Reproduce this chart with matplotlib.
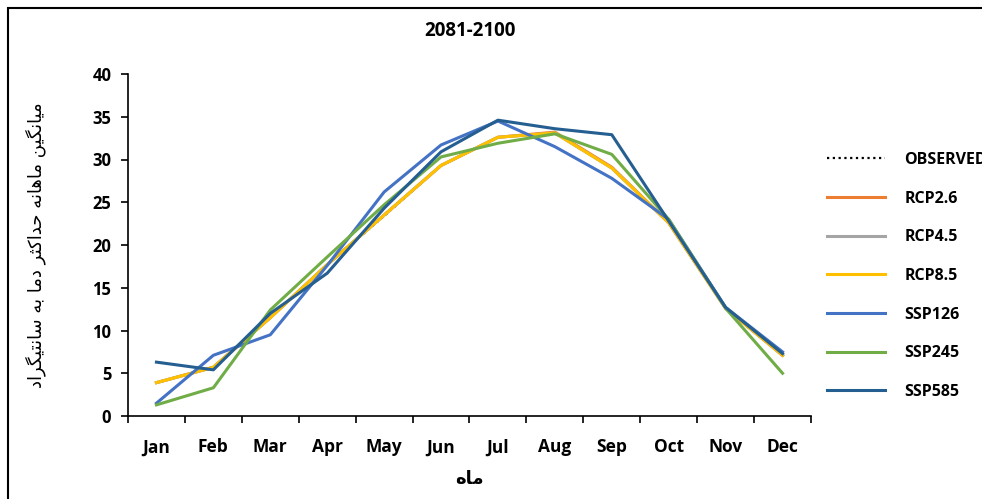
import matplotlib
matplotlib.use("Agg")
import matplotlib.pyplot as plt
from matplotlib.patches import Rectangle

months = ["Jan", "Feb", "Mar", "Apr", "May", "Jun", "Jul", "Aug", "Sep", "Oct", "Nov", "Dec"]
observed = [3.9, 5.7, 11.5, 17.7, 23.4, 29.3, 32.6, 33.1, 29.0, 22.6, 12.6, 7.1]
rcp26 = [3.9, 5.7, 11.5, 17.7, 23.5, 29.3, 32.6, 33.2, 29.1, 22.6, 12.6, 7.1]
rcp45 = [3.9, 5.7, 11.5, 17.7, 23.5, 29.3, 32.6, 33.1, 29.0, 22.6, 12.6, 7.1]
rcp85 = [3.9, 5.7, 11.5, 17.7, 23.5, 29.3, 32.6, 33.1, 29.0, 22.6, 12.6, 7.1]
ssp126 = [1.5, 7.1, 9.5, 17.6, 26.2, 31.7, 34.5, 31.5, 27.8, 23.0, 12.7, 7.5]
ssp245 = [1.3, 3.3, 12.4, 18.6, 24.7, 30.3, 31.9, 33.0, 30.6, 23.0, 12.6, 5.0]
ssp585 = [6.3, 5.4, 12.0, 16.7, 24.3, 30.9, 34.6, 33.6, 32.9, 22.8, 12.7, 7.3]
series_names = ["OBSERVED", "RCP2.6", "RCP4.5", "RCP8.5", "SSP126", "SSP245", "SSP585"]
yticks = [0, 5, 10, 15, 20, 25, 30, 35, 40]
title = "2081-2100"
xlabel_logical = "ماه"
ylabel_logical = "میانگین ماهانه حداکثر دما به سانتیگراد"

# --- simple Persian shaping (presentation forms) ---
FORMS = {
    'ا': ('\uFE8D', '\uFE8E', None, None),
    'د': ('\uFEA9', '\uFEAA', None, None),
    'ر': ('\uFEAD', '\uFEAE', None, None),
    'ب': ('\uFE8F', '\uFE90', '\uFE91', '\uFE92'),
    'ت': ('\uFE95', '\uFE96', '\uFE97', '\uFE98'),
    'ث': ('\uFE99', '\uFE9A', '\uFE9B', '\uFE9C'),
    'ح': ('\uFEA1', '\uFEA2', '\uFEA3', '\uFEA4'),
    'س': ('\uFEB1', '\uFEB2', '\uFEB3', '\uFEB4'),
    'م': ('\uFEE1', '\uFEE2', '\uFEE3', '\uFEE4'),
    'ن': ('\uFEE5', '\uFEE6', '\uFEE7', '\uFEE8'),
    'ه': ('\uFEE9', '\uFEEA', '\uFEEB', '\uFEEC'),
    'ی': ('\uFBFC', '\uFBFD', '\uFBFE', '\uFBFF'),
    'ک': ('\uFB8E', '\uFB8F', '\uFB90', '\uFB91'),
    'گ': ('\uFB92', '\uFB93', '\uFB94', '\uFB95'),
}

def shape(text):
    out = []
    n = len(text)
    for i, c in enumerate(text):
        if c not in FORMS:
            out.append(c)
            continue
        prev = text[i - 1] if i > 0 else None
        nxt = text[i + 1] if i < n - 1 else None
        join_prev = prev in FORMS and FORMS[prev][2] is not None
        join_next = nxt in FORMS and FORMS[c][2] is not None
        iso, fin, ini, med = FORMS[c]
        if join_prev and join_next:
            out.append(med)
        elif join_prev:
            out.append(fin)
        elif join_next:
            out.append(ini)
        else:
            out.append(iso)
    return ''.join(reversed(out))

plt.rcParams['font.family'] = ['Open Sans', 'DejaVu Sans']
plt.rcParams['font.weight'] = 'bold'

fig = plt.figure(figsize=(9.82, 4.99), dpi=100)
ax = fig.add_axes([128 / 982, 1 - 416 / 499, (811 - 128) / 982, (416 - 74) / 499])

x = list(range(len(months)))
colors = ["#000000", "#ED7D31", "#A5A5A5", "#FFC000", "#4472C4", "#70AD47", "#255E91"]
data = [observed, rcp26, rcp45, rcp85, ssp126, ssp245, ssp585]
for name, vals, col in zip(series_names, data, colors):
    if name == "OBSERVED":
        ax.plot(x, vals, color=col, lw=1.6, ls=(0, (1, 1.6)), label=name, zorder=2)
    else:
        ax.plot(x, vals, color=col, lw=2.2, label=name, zorder=3)

ax.set_xlim(-0.5, 11.5)
ax.set_ylim(0, 40)
ax.set_yticks(yticks)
ax.set_yticklabels([str(v) for v in yticks], fontsize=12, fontweight='bold')
ax.set_xticks(x)
ax.set_xticklabels(months, fontsize=12.5, fontweight='bold')
ax.set_xticks([i - 0.5 for i in range(13)], minor=True)
ax.tick_params(axis='x', which='major', length=0, pad=16)
ax.tick_params(axis='x', which='minor', length=5, width=1.2, direction='out')
ax.tick_params(axis='y', length=5, width=1.2, direction='out', pad=7)
for s in ['top', 'right']:
    ax.spines[s].set_visible(False)
for s in ['left', 'bottom']:
    ax.spines[s].set_linewidth(1.2)

ax.set_title(title, fontsize=13.5, fontweight='bold', pad=27)
ax.set_xlabel(shape(xlabel_logical), fontsize=13, fontweight='bold',
              family=['DejaVu Sans'], labelpad=10)
ax.set_ylabel(shape(ylabel_logical), fontsize=13, fontweight='normal',
              family=['DejaVu Sans'], labelpad=33)

leg = ax.legend(loc='upper left', bbox_to_anchor=(827 / 982, 1 - 152 / 499),
                bbox_transform=fig.transFigure, frameon=False, fontsize=11.5,
                handlelength=3.6, handletextpad=1.25, labelspacing=1.42,
                borderaxespad=0, borderpad=0)
for t in leg.get_texts():
    t.set_fontweight('bold')

fig.patches.append(Rectangle((8 / 982, -0.05), 1.2, 1 - 8 / 499 + 0.05,
                             transform=fig.transFigure, fill=False,
                             edgecolor='black', lw=1.5, clip_on=False))

fig.savefig("out.png", dpi=100)
